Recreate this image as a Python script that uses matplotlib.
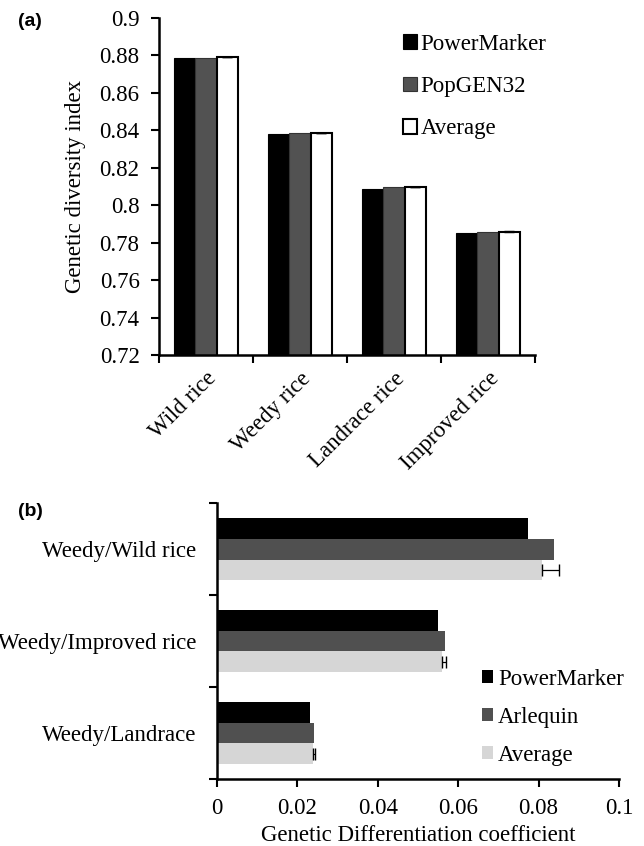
import numpy as np
import matplotlib.pyplot as plt

plt.rcParams['font.family'] = ['Liberation Serif', 'DejaVu Serif']

# panel (a) data
groups_a = ['Wild rice', 'Weedy rice', 'Landrace rice', 'Improved rice']
powermarker_a = [0.8787, 0.8383, 0.8090, 0.7853]
popgen_a = [0.8787, 0.8385, 0.8097, 0.7856]
average_a = [0.8790, 0.8386, 0.8097, 0.7860]
err_a = [0.0002, 0.0002, 0.0003, 0.0002]

# panel (b) data
groups_b = ['Weedy/Wild rice', 'Weedy/Improved rice', 'Weedy/Landrace']
powermarker_b = [0.0774, 0.0550, 0.0231]
arlequin_b = [0.0838, 0.0568, 0.0241]
average_b = [0.0808, 0.0561, 0.0239]
err_b = [0.0044, 0.0009, 0.0006]

fs = 16.5
fig = plt.figure(figsize=(6.44, 8.46), dpi=100)

# ---- (a) ----
ax1 = fig.add_axes([0.247, 0.5798, 0.584, 0.399])
x = np.arange(len(groups_a)) + 0.5
w = 0.227
ax1.bar(x - w, powermarker_a, w, color='black', edgecolor='black', linewidth=0.8, label='PowerMarker')
ax1.bar(x, popgen_a, w, color='#525252', edgecolor='#333333', linewidth=0.8, label='PopGEN32')
ax1.bar(x + w, average_a, w, color='white', edgecolor='black', linewidth=1.5, label='Average',
        yerr=[np.zeros(4), err_a], error_kw=dict(ecolor='black', capsize=3.5, elinewidth=0.8))
ax1.set_ylim(0.72, 0.9)
ax1.set_xlim(0, 4)
ax1.set_yticks(np.arange(0.72, 0.9001, 0.02))
ax1.set_yticklabels(['0.72', '0.74', '0.76', '0.78', '0.8', '0.82', '0.84', '0.86', '0.88', '0.9'])
ax1.set_xticks(np.arange(5))
ax1.set_xticklabels([])
ax1.set_xticks(x, minor=True)
ax1.set_xticklabels(groups_a, minor=True, rotation=45, ha='right', rotation_mode='anchor')
ax1.tick_params(axis='x', which='minor', length=0, labelsize=fs, pad=9)
ax1.tick_params(axis='x', which='major', length=6, width=1.5, direction='out')
ax1.tick_params(axis='y', labelsize=fs, length=6, width=1.5, direction='out', pad=8)
ax1.set_ylabel('Genetic diversity index', fontsize=fs, labelpad=10)
for s in ['top', 'right']:
    ax1.spines[s].set_visible(False)
for s in ['left', 'bottom']:
    ax1.spines[s].set_linewidth(1.8)
ax1.legend(loc='upper left', bbox_to_anchor=(0.649, 0.953), frameon=False, fontsize=fs,
           borderpad=0, borderaxespad=0, handlelength=0.6, handleheight=0.6,
           handletextpad=0.15, labelspacing=0.93)
fig.text(0.028, 0.974, '(a)', fontsize=14, fontweight='bold', family='Liberation Sans', va='center')

# ---- (b) ----
ax2 = fig.add_axes([0.337, 0.0792, 0.624, 0.326])
y = np.arange(len(groups_b)) + 0.5
h = 0.225
ax2.barh(y - h, powermarker_b, h, color='black', label='PowerMarker')
ax2.barh(y, arlequin_b, h, color='#505050', label='Arlequin')
ax2.barh(y + h, average_b, h, color='#d6d6d6', label='Average',
         xerr=[np.zeros(3), err_b], error_kw=dict(ecolor='black', capsize=4, elinewidth=0.9))
ax2.set_ylim(3, 0)
ax2.set_xlim(0, 0.1)
ax2.set_yticks(np.arange(4))
ax2.set_yticklabels([])
ax2.set_yticks(y, minor=True)
ax2.set_yticklabels(groups_b, minor=True)
ax2.tick_params(axis='y', which='minor', length=0, labelsize=fs, pad=15)
ax2.tick_params(axis='y', which='major', length=6, width=1.5, direction='out')
ax2.set_xticks(np.arange(0, 0.1001, 0.02))
ax2.set_xticklabels(['0', '0.02', '0.04', '0.06', '0.08', '0.1'])
ax2.tick_params(axis='x', labelsize=fs, length=6, width=1.5, direction='out', pad=8)
ax2.set_xlabel('Genetic Differentiation coefficient', fontsize=fs, labelpad=4)
for s in ['top', 'right']:
    ax2.spines[s].set_visible(False)
for s in ['left', 'bottom']:
    ax2.spines[s].set_linewidth(1.8)
ax2.legend(loc='upper left', bbox_to_anchor=(0.659, 0.40), frameon=False, fontsize=fs,
           borderpad=0, borderaxespad=0, handlelength=0.5, handleheight=0.5,
           handletextpad=0.2, labelspacing=0.75)
fig.text(0.028, 0.395, '(b)', fontsize=14, fontweight='bold', family='Liberation Sans', va='center')

fig.savefig('out.png', dpi=100)
